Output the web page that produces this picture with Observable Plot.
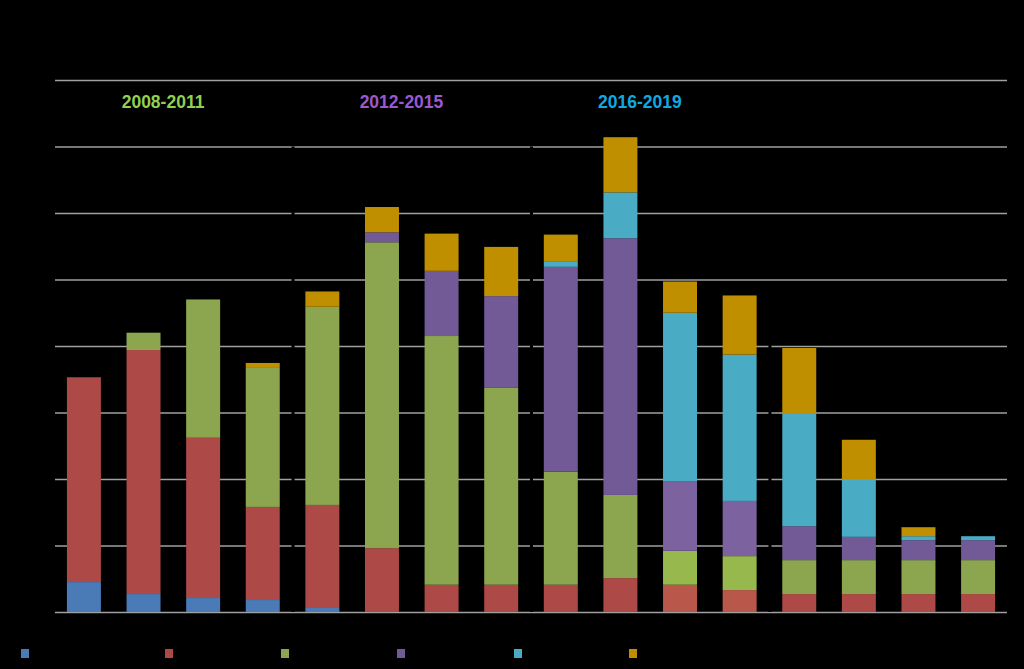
<!DOCTYPE html>
<html><head><meta charset="utf-8">
<script src="https://cdn.jsdelivr.net/npm/d3@7"></script>
<script src="https://cdn.jsdelivr.net/npm/@observablehq/plot@0.6"></script>
<style>
html,body{margin:0;padding:0;background:#000;}
#wrap{position:relative;width:1024px;height:669px;background:#000;overflow:hidden}
#chart svg{display:block;background:#000}
#legend{position:absolute;left:0;top:649px;height:9px;width:1024px}
.sw{position:absolute;top:0;width:8px;height:9px}
</style></head><body>
<div id="wrap"><div id="chart"></div><div id="legend"></div></div>
<script>
// ---- data ----
const years = ["2008","2009","2010","2011","2012","2013","2014","2015","2016","2017","2018","2019","2020","2021","2022","2023"];
const seriesNames = ["Series 1","Series 2","Series 3","Series 4","Series 5","Series 6"];
const seriesBlue   = [4.5, 2.7, 2.1, 1.8, 0.6, 0,   0,    0,    0,    0,    0,    0,    0,   0,   0,   0];
const seriesRed    = [30.8,36.7,24.1,14.0,15.5,9.6, 4.1,  4.1,  4.1,  5.1,  4.1,  3.3,  2.7, 2.7, 2.7, 2.7];
const seriesGreen  = [0,   2.6, 20.8,20.9,29.8,46.0,37.4, 29.6, 17.0, 12.5, 5.1,  5.1,  5.1, 5.1, 5.1, 5.1];
const seriesPurple = [0,   0,   0,   0,   0,   1.5, 9.8,  13.8, 30.8, 38.6, 10.4, 8.3,  5.1, 3.5, 3.0, 3.0];
const seriesCyan   = [0,   0,   0,   0,   0,   0,   0,    0,    0.75, 6.9,  25.4, 22.0, 17.0,8.7, 0.6, 0.6];
const seriesGold   = [0,   0,   0,   0.75,2.3, 3.8, 5.6,  7.4,  4.1,  8.3,  4.7,  8.9,  9.8, 5.9, 1.35,0];
const periodLabels = ["2008-2011","2012-2015","2016-2019"];
const periodAnchorYears = ["2009","2013","2017"];
const separatorYears = ["2012","2016","2020"];
const separatorTops = [70, 70, 49];
const highlightYears = ["2018","2019"];
const gridTicks = [0,10,20,30,40,50,60,70,80];

// ---- style ----
const colors = ["#4a7bb7","#ad4a47","#8ca650","#725a96","#4aabc5","#c08f00"];
const highlightColors = ["#4a7bb7","#b9584a","#97b84c","#7d62a0","#4aabc5","#c08f00"];
const periodColors = ["#92d050","#9b59d0","#12a8e0"];
const legendX = [21,165,281,397,514,629];

const seriesValues = [seriesBlue, seriesRed, seriesGreen, seriesPurple, seriesCyan, seriesGold];
const rows = [];
years.forEach((yr, i) => {
  seriesValues.forEach((arr, s) => {
    rows.push({year: yr, series: seriesNames[s], idx: s, value: arr[i],
      color: highlightYears.includes(yr) ? highlightColors[s] : colors[s]});
  });
});
const periods = periodLabels.map((t, i) => ({label: t, year: periodAnchorYears[i], color: periodColors[i]}));
const seps = separatorYears.map((y, i) => ({year: y, top: separatorTops[i]}));

const W = 1024, mL = 55, mR = 17;
const step = (W - mL - mR) / (years.length - 0.43 + 0.4);

const chart = Plot.plot({
  width: W, height: 640,
  marginLeft: mL, marginRight: mR, marginTop: 80, marginBottom: 28,
  style: {background: "#000", color: "#000"},
  x: {domain: years, paddingInner: 0.43, paddingOuter: 0.2, round: false, axis: null},
  y: {domain: [0, 80], axis: null},
  marks: [
    Plot.ruleY(gridTicks, {stroke: "#a0a0a0", strokeWidth: 1.3}),
    Plot.ruleX(seps, {x: "year", y1: 0, y2: "top", dx: -step / 2, stroke: "#000", strokeWidth: 3}),
    Plot.barY(rows, Plot.stackY({x: "year", y: "value", z: "series", order: "idx", fill: "color"})),
    Plot.text(periods, {x: "year", frameAnchor: "top", dy: 15, dx: 19, text: "label", fill: "color",
      fontSize: 17.5, fontWeight: "bold", fontFamily: "Liberation Sans Narrow, Liberation Sans, Arial, sans-serif", textAnchor: "middle", lineAnchor: "top"})
  ]
});
document.getElementById("chart").appendChild(chart);

const leg = document.getElementById("legend");
seriesNames.forEach((n, i) => {
  const d = document.createElement("div");
  d.className = "sw";
  d.style.left = legendX[i] + "px";
  d.style.background = colors[i];
  d.title = n;
  leg.appendChild(d);
});
</script>
</body></html>
